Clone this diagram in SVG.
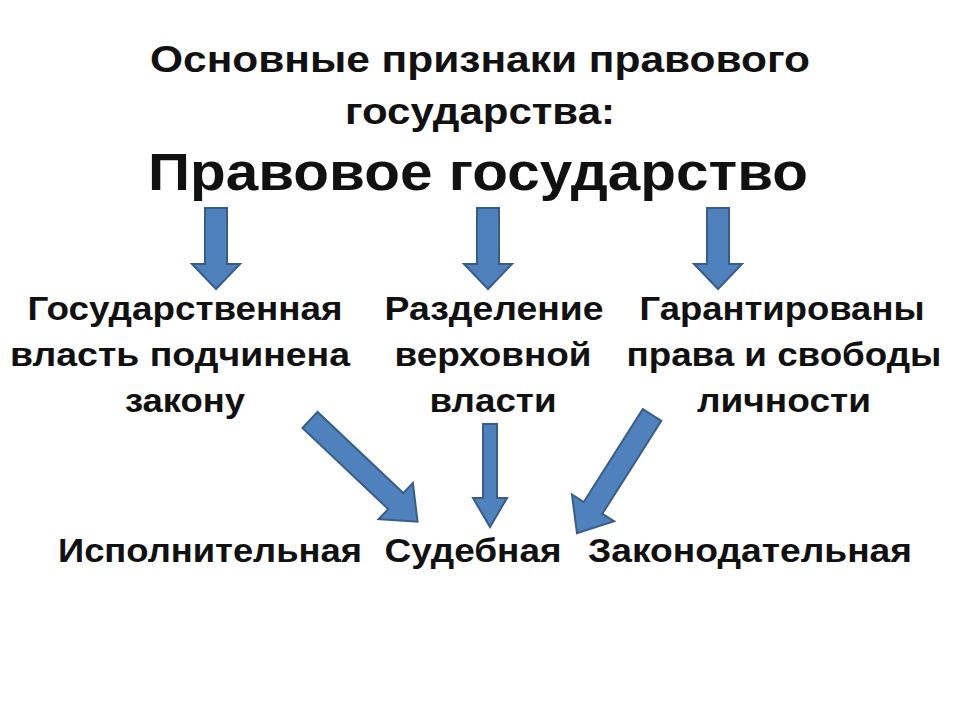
<svg xmlns="http://www.w3.org/2000/svg" width="960" height="720" viewBox="0 0 960 720">
<style>
text{font-family:"Liberation Sans",Arial,sans-serif;font-weight:bold;fill:#111;text-anchor:middle}
.t{font-size:36px}.h{font-size:51px}.n{font-size:33px}
.a{fill:#4F81BD;stroke:#385D8A;stroke-width:2;stroke-linejoin:miter}
</style>
<rect width="960" height="720" fill="#fff"/>
<g id="title"><text class="t" x="480" y="72" textLength="660" lengthAdjust="spacingAndGlyphs">Основные признаки правового</text><text class="t" x="480" y="124" textLength="270" lengthAdjust="spacingAndGlyphs">государства:</text></g>
<g id="root"><text class="h" x="478" y="190" textLength="660" lengthAdjust="spacingAndGlyphs">Правовое государство</text></g>
<g id="n1"><text class="n" x="185" y="320" textLength="315" lengthAdjust="spacingAndGlyphs">Государственная</text><text class="n" x="180" y="366" textLength="340" lengthAdjust="spacingAndGlyphs">власть подчинена</text><text class="n" x="185" y="412" textLength="120" lengthAdjust="spacingAndGlyphs">закону</text></g>
<g id="n2"><text class="n" x="494" y="320" textLength="219" lengthAdjust="spacingAndGlyphs">Разделение</text><text class="n" x="493" y="366" textLength="197" lengthAdjust="spacingAndGlyphs">верховной</text><text class="n" x="493" y="412" textLength="127" lengthAdjust="spacingAndGlyphs">власти</text></g>
<g id="n3"><text class="n" x="782" y="320" textLength="285" lengthAdjust="spacingAndGlyphs">Гарантированы</text><text class="n" x="784" y="366" textLength="315" lengthAdjust="spacingAndGlyphs">права и свободы</text><text class="n" x="784" y="412" textLength="174" lengthAdjust="spacingAndGlyphs">личности</text></g>
<g id="b1"><text class="n" x="210" y="562" textLength="304" lengthAdjust="spacingAndGlyphs">Исполнительная</text></g>
<g id="b2"><text class="n" x="473" y="562" textLength="177" lengthAdjust="spacingAndGlyphs">Судебная</text></g>
<g id="b3"><text class="n" x="750" y="562" textLength="324" lengthAdjust="spacingAndGlyphs">Законодательная</text></g>
<g id="connectors">
<path class="a" d="M205,208h22v56h13l-24,25l-24,-25h13z"/>
<path class="a" d="M477,208h22v56h13l-24,25l-24,-25h13z"/>
<path class="a" d="M707,208h22v56h13l-24,25l-24,-25h13z"/>
<path class="a" d="M483,424h14v74h10l-17,29l-17,-29h10z"/>
<path class="a" transform="translate(310,420) rotate(-46.6)" d="M-11,0h22v118h14l-25,30l-25,-30h14z"/>
<path class="a" transform="translate(652,415) rotate(32.4)" d="M-11,0h22v110h14l-25,30l-25,-30h14z"/>
</g>
</svg>
